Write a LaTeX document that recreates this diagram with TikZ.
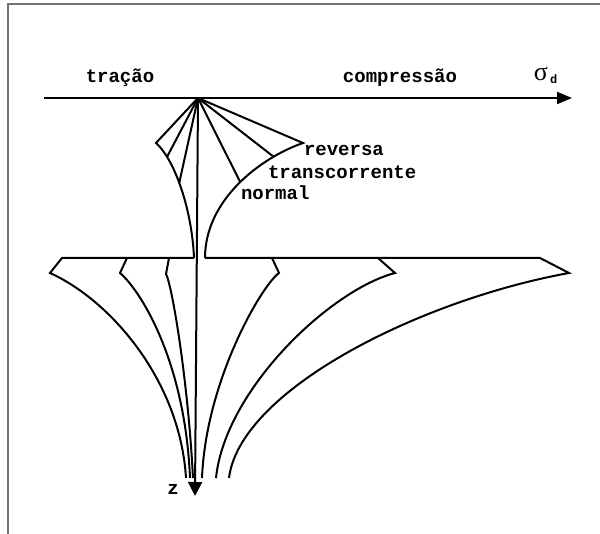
\documentclass[tikz,border=0pt]{standalone}
\usepackage{fontspec}
\setmonofont{Liberation Mono}
\newfontfamily\grkfont{Liberation Serif}
\usetikzlibrary{arrows.meta}
\begin{document}
\begin{tikzpicture}[x=1pt,y=-1pt,line width=2pt,line join=miter,
  lbl/.style={font=\ttfamily\bfseries\fontsize{19}{22}\selectfont,inner sep=0pt},
  axisarrow/.style={-{Triangle[length=15pt,width=12pt]}},
  framestyle/.style={draw=black!55,line width=1.6pt}]
\useasboundingbox (0,0) rectangle (600,534);
% frame
\coordinate (f1) at (8,534);
\coordinate (f2) at (8,4);
\coordinate (f3) at (600,4);
\draw[framestyle] (f1) -- (f2) -- (f3);
% axes
\coordinate (O) at (198,98);
\coordinate (ax0) at (44,98);
\coordinate (ax1) at (572,98);
\coordinate (zend) at (195,496);
\draw[axisarrow] (ax0) -- (ax1);
\draw[-{Triangle[length=14pt,width=14pt]}] (O) -- (zend);
% labels
\node[lbl,anchor=base] (trac) at (120,83) {tração};
\node[lbl,anchor=base] (comp) at (400,83) {compressão};
\node[inner sep=0pt,font=\grkfont\fontsize{26}{28}\selectfont,anchor=base] (sig) at (541,81) {σ};
\node[lbl,font=\ttfamily\bfseries\fontsize{12}{14}\selectfont,anchor=base west] (sigd) at (sig.base east) {\raisebox{-3pt}{d}};
\node[lbl,anchor=base west] (rev) at (303,156) {reversa};
\node[lbl,anchor=base west] (trans) at (267,179) {transcorrente};
\node[lbl,anchor=base west] (norm) at (240,200) {normal};
\node[lbl,anchor=base] (z) at (173,495) {z};
% upper fan, left side
\coordinate (lt) at (156,143);
\coordinate (lb) at (194,258);
\draw (O) -- (lt) .. controls (175,160) and (192,210) .. (lb)
   coordinate[pos=0.2] (l1) coordinate[pos=0.45] (l2);
\draw (O) -- (l1);
\draw (O) -- (l2);
% upper fan, right side
\coordinate (rt) at (303,143);
\coordinate (rb) at (205,258);
\draw (O) -- (rt) .. controls (260,158) and (205,200) .. (rb)
   coordinate[pos=0.22] (r1) coordinate[pos=0.48] (r2);
\draw (O) -- (r1);
\draw (O) -- (r2);
% base lines
\coordinate (hl) at (62,258);
\coordinate (hr) at (540,258);
\coordinate (t2) at (127,258);
\coordinate (t3) at (169,258);
\coordinate (t4) at (272,258);
\coordinate (t5) at (378,258);
\coordinate (b1) at (50,273);
\coordinate (b2) at (120,273);
\coordinate (b3) at (166,274);
\coordinate (b4) at (279,273);
\coordinate (b5) at (395,273);
\coordinate (b6) at (569,273);
\coordinate (e1) at (186,478);
\coordinate (e2) at (190,478);
\coordinate (e3) at (193,478);
\coordinate (e4) at (202,478);
\coordinate (e5) at (216,478);
\coordinate (e6) at (229,478);
\draw (lb) -- (hl) -- (b1) .. controls (110,300) and (180,380) .. (e1);
\draw (t2) -- (b2) .. controls (140,290) and (185,360) .. (e2);
\draw (t3) -- (b3) .. controls (172,285) and (188,380) .. (e3);
\draw (rb) -- (hr) -- (b6) .. controls (420,300) and (240,390) .. (e6);
\draw (t4) -- (b4) .. controls (262,285) and (206,380) .. (e4);
\draw (t5) -- (b5) .. controls (330,290) and (225,390) .. (e5);
\end{tikzpicture}
\end{document}
